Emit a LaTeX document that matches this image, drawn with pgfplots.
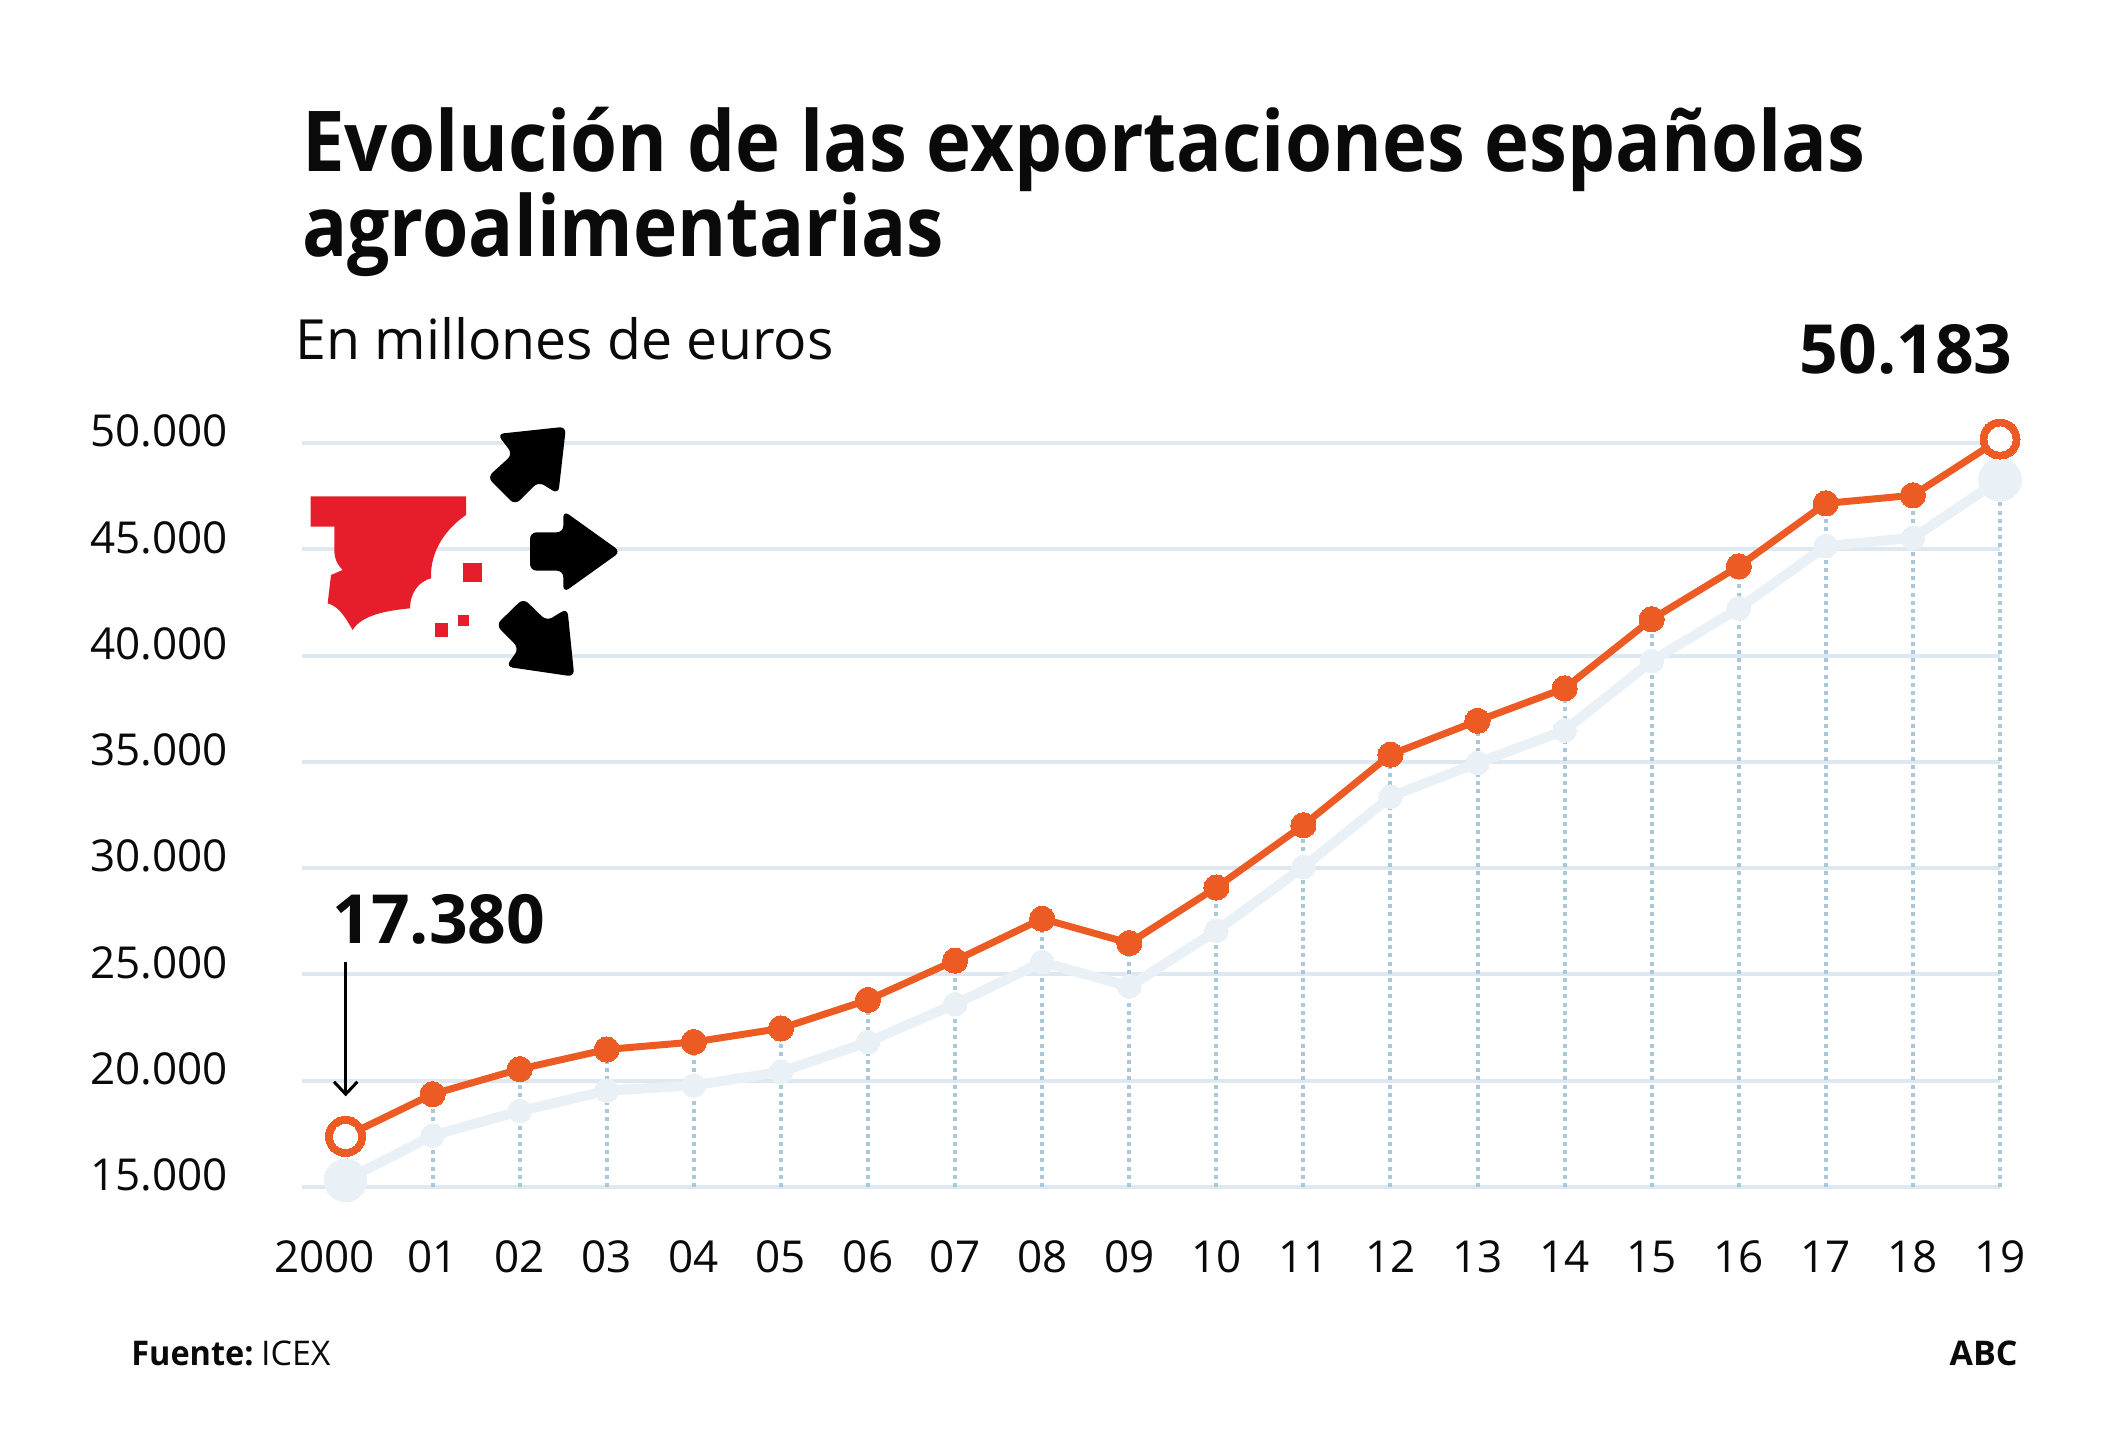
\documentclass[border=0pt]{standalone}
\usepackage{fontspec}
\setmainfont{Open Sans}
\newfontfamily\titlef[FakeStretch=0.905]{Open Sans}
\newfontfamily\titleg[FakeStretch=0.892]{Open Sans}
\newfontfamily\smallf[FakeStretch=0.955]{Open Sans}
\usepackage{pgfplots}
\pgfplotsset{compat=1.18}
\usepackage{pgfplotstable}
\definecolor{orangeL}{HTML}{EC5B24}
\definecolor{gridL}{HTML}{DDE8F0}
\definecolor{dropL}{HTML}{A9C9DB}
\definecolor{shadowL}{HTML}{EAF1F6}
\definecolor{redI}{HTML}{E61E2B}
\definecolor{inkT}{HTML}{0A0A0A}
\pgfplotstableread{
x y
0 17380
1 19367
2 20546
3 21470
4 21820
5 22460
6 23800
7 25650
8 27620
9 26475
10 29090
11 32020
12 35340
13 36930
14 38460
15 41710
16 44200
17 47160
18 47540
19 50183
}\mainT
\pgfplotstableread{
x y
0 15320
1 17420
2 18570
3 19530
4 19780
5 20420
6 21820
7 23600
8 25580
9 24430
10 27050
11 30050
12 33360
13 34950
14 36480
15 39740
16 42220
17 45150
18 45540
19 48280
}\shadowT
\begin{document}
\begin{tikzpicture}[x=1pt,y=1pt]
\path (0,0) rectangle (1062.5,727.5);
\begin{axis}[
  at={(151pt,134pt)}, anchor=south west,
  scale only axis, width=849pt, height=372pt,
  xmin=-0.5, xmax=19, ymin=15000, ymax=50000,
  clip=false,
  scaled y ticks=false,
  axis line style={draw=none},
  tick style={draw=none},
  ymajorgrids, major grid style={gridL, line width=2pt},
  xtick={0,...,19},
  xticklabels={2000\rule{21pt}{0pt},01,02,03,04,05,06,07,08,09,10,11,12,13,14,15,16,17,18,19},
  ytick={15000,20000,25000,30000,35000,40000,45000,50000},
  yticklabels={15.000,20.000,25.000,30.000,35.000,40.000,45.000,50.000},
  every x tick label/.append style={font=\fontsize{22}{24}\selectfont, text=inkT, anchor=base, yshift=0pt},
  every y tick label/.append style={font=\fontsize{22}{24}\selectfont, text=inkT, anchor=east, yshift=5.9pt},
  xticklabel style={yshift=-42.8pt},
  yticklabel style={xshift=-33.5pt},
]
\addplot[shadowL, line width=5pt, mark=*, mark size=5.9pt, mark options={fill=shadowL, draw=shadowL, line width=0pt}] table[x=x,y=y] {\shadowT};
\addplot[shadowL, only marks, mark=*, mark size=10.7pt, mark options={fill=shadowL, draw=shadowL, line width=0pt}] coordinates {(0,15320) (19,48280)};
\addplot[dropL, line width=2pt, dash pattern=on 2pt off 2.1pt, ycomb, mark=none] table[x=x,y=y] {\mainT};
\addplot[orangeL, line width=3.5pt, mark=*, mark size=6.3pt, mark options={fill=orangeL, draw=orangeL, line width=0pt}] table[x=x,y=y] {\mainT};
\addplot[orangeL, only marks, mark=*, mark size=10pt, mark options={fill=orangeL, draw=orangeL, line width=0pt}] coordinates {(0,17380) (19,50183)};
\addplot[white, only marks, mark=*, mark size=6.1pt, mark options={fill=white, draw=white, line width=0pt}] coordinates {(0,17380) (19,50183)};
\end{axis}
% title and texts: positions in px/2 from the bottom-left
\node[anchor=base west, inner sep=0, text=inkT, font=\titlef\fontsize{42}{44}\bfseries\selectfont] at (151,641.5) {Evolución de las exportaciones españolas};
\node[anchor=base west, inner sep=0, text=inkT, font=\titleg\fontsize{42}{44}\bfseries\selectfont] at (151,599) {agroalimentarias};
\node[anchor=base west, inner sep=0, text=inkT, font=\fontsize{27.7}{30}\selectfont] at (147.5,547.5) {En millones de euros};
\node[anchor=base east, inner sep=0, text=inkT, font=\fontsize{33.9}{36}\bfseries\selectfont] at (1006.5,540.5) {50.183};
\node[anchor=base west, inner sep=0, text=inkT, font=\fontsize{33.9}{36}\bfseries\selectfont] at (166,255.5) {17.380};
\node[anchor=base west, inner sep=0, text=inkT, font=\smallf\fontsize{17}{20}\selectfont] at (65.5,44.5) {\textbf{Fuente:}\hspace{0.22em}{\rmfamily ICEX}};
\node[anchor=base east, inner sep=0, text=inkT, font=\fontsize{17}{20}\bfseries\selectfont] at (1009,44.5) {ABC};
% annotation arrow
\draw[black, line width=1.5pt] (172.85,246.5) -- (172.85,181);
\draw[black, line width=1.5pt] (167,186.6) -- (172.85,180.4) -- (178.7,186.6);
% icon: coordinates are those of the 3x crop of the region starting at (280,400)
\begin{scope}[shift={(140,527.5)}, x=0.16667pt, y=-0.16667pt]
\fill[redI] (92,289) -- (558,289) -- (558,345) .. controls (500,385) and (450,450) .. (453,535)
  .. controls (415,545) and (390,580) .. (390,625) .. controls (320,632) and (245,645) .. (218,690)
  .. controls (200,660) and (180,620) .. (143,610) -- (153,525) -- (188,510)
  .. controls (172,495) and (163,475) .. (163,455) -- (163,380) -- (92,380) -- cycle;
\fill[redI] (550,489) rectangle (607,546);
\fill[redI] (533,644) rectangle (568,679);
\fill[redI] (465,670) rectangle (505,711);
\fill[black, rounded corners=3.3pt] (750,397) -- (850,397) -- (850,332) -- (1022,455) -- (850,578) -- (850,512) -- (750,512) -- cycle;
\fill[black, rounded corners=3.3pt] (858,80) -- (652,102) -- (698,163) -- (622,232) -- (705,315) -- (775,245) -- (835,282) -- cycle;
\fill[black, rounded corners=3.3pt] (730,595) -- (800,663) -- (862,625) -- (883,830) -- (678,800) -- (717,745) -- (648,675) -- cycle;
\end{scope}
\end{tikzpicture}
\end{document}
